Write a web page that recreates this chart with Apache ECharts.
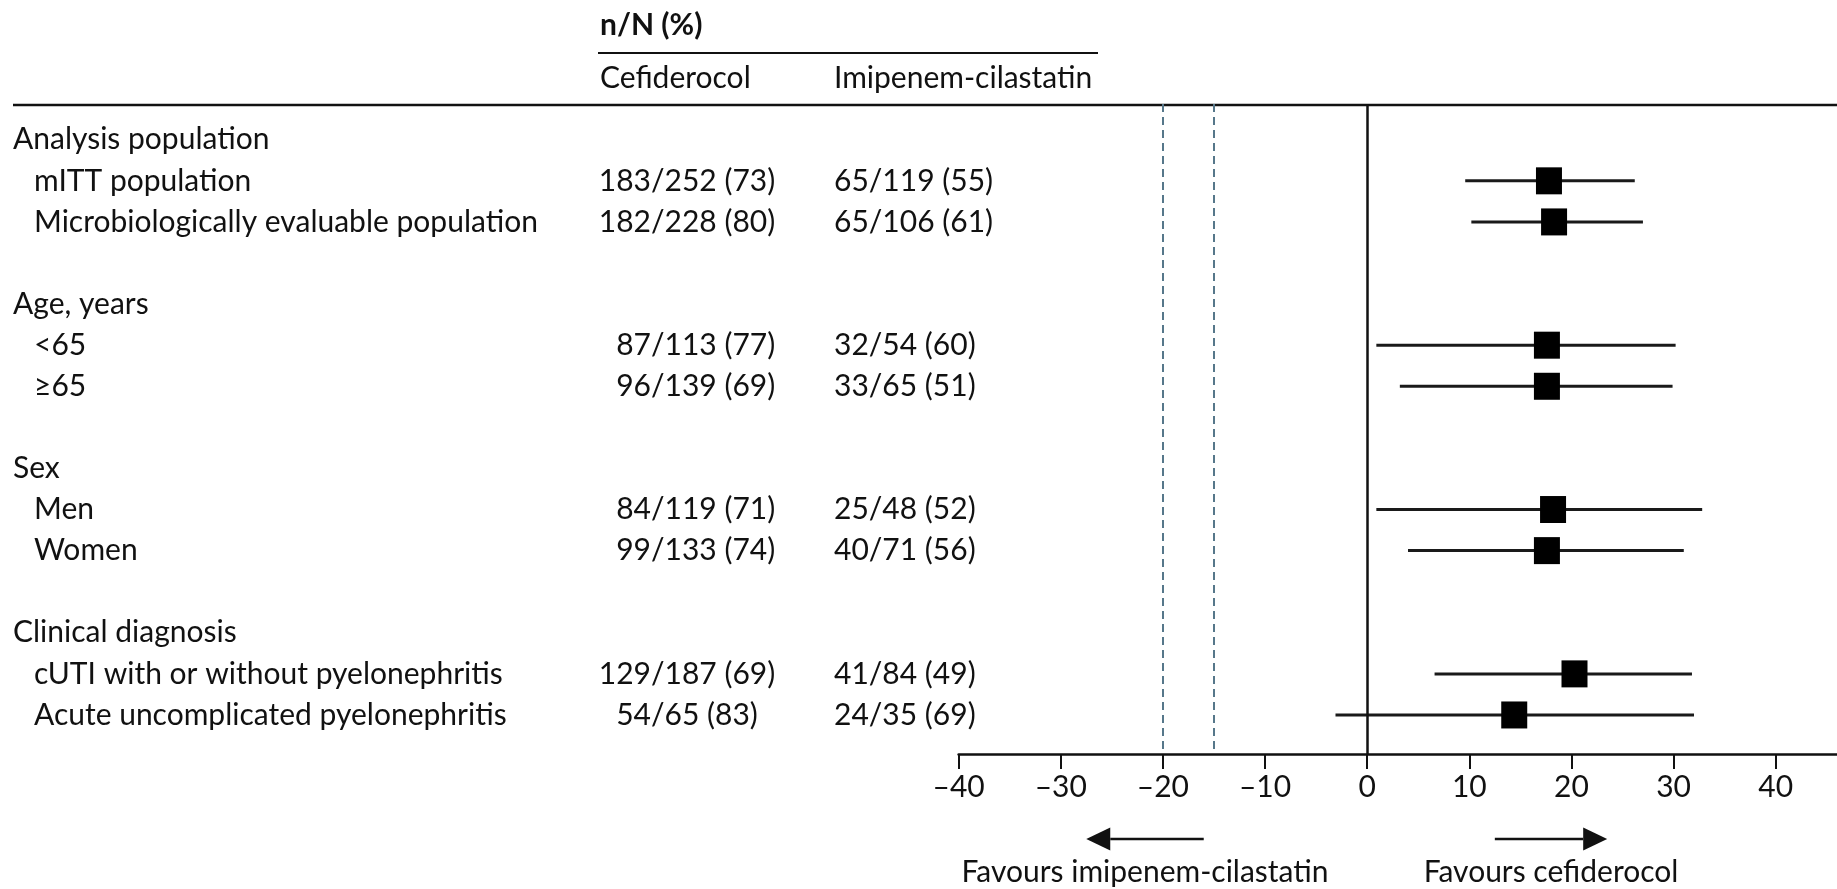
<!DOCTYPE html>
<html>
<head>
<meta charset="utf-8">
<title>Cefiderocol vs imipenem-cilastatin: subgroup forest plot</title>
<script src="https://cdn.jsdelivr.net/npm/echarts@6/dist/echarts.min.js"></script>
<style>
  html, body { margin: 0; padding: 0; background: #ffffff; }
  #chart { width: 1837px; height: 889px; }
</style>
</head>
<body>
<div id="chart"></div>
<script>
// ---- Data ---------------------------------------------------------------
const groupHeaders = ['Analysis population', 'Age, years', 'Sex', 'Clinical diagnosis'];
const subgroups = [
  'mITT population',
  'Microbiologically evaluable population',
  '<65',
  '\u226565',
  'Men',
  'Women',
  'cUTI with or without pyelonephritis',
  'Acute uncomplicated pyelonephritis'
];
const cefiderocolCounts = ['183/252 (73)', '182/228 (80)', '87/113 (77)', '96/139 (69)', '84/119 (71)', '99/133 (74)', '129/187 (69)', '54/65 (83)'];
const imipenemCounts = ['65/119 (55)', '65/106 (61)', '32/54 (60)', '33/65 (51)', '25/48 (52)', '40/71 (56)', '41/84 (49)', '24/35 (69)'];
// Treatment difference (%) with 95% CI
const difference = [17.8, 18.3, 17.6, 17.6, 18.2, 17.6, 20.3, 14.4];
const ciLower    = [9.6, 10.2, 0.9, 3.2, 0.9, 4.0, 6.6, -3.1];
const ciUpper    = [26.2, 27.0, 30.2, 29.9, 32.8, 31.0, 31.8, 32.0];
// Non-inferiority margins
const marginLines = [-20, -15];
const xTicks = [-40, -30, -20, -10, 0, 10, 20, 30, 40];
const columnGroupTitle = 'n/N (%)';
const columnTitles = ['Cefiderocol', 'Imipenem-cilastatin'];
const favourLabels = ['Favours imipenem-cilastatin', 'Favours cefiderocol'];
const favourArrows = [[-16, -27.5], [12.5, 23.5]];   // [tail, tip] in axis units

// ---- Layout -------------------------------------------------------------
const FONT = 'Lato, "Liberation Sans", sans-serif';
const FS = 30;
const INK = '#111111';
const X_HEADER = 13, X_INDENT = 34, X_CEF_SLASH = 651, X_IMI = 834, X_COLS = 600;

// each group: header row, two subgroup rows, one spacer row
const rowOfSubgroup = k => 4 * Math.floor(k / 2) + 1 + (k % 2);
const tableRows = [];
groupHeaders.forEach((h, g) => {
  tableRows.push({ row: 4 * g, label: h, x: X_HEADER });
  for (let j = 0; j < 2; j++) {
    const k = 2 * g + j;
    tableRows.push({ row: rowOfSubgroup(k), label: subgroups[k], x: X_INDENT,
                     cef: cefiderocolCounts[k], imi: imipenemCounts[k] });
  }
});

const textStyle = (text, align, extra) => Object.assign({
  text, fill: INK, fontSize: FS, fontFamily: FONT, align, verticalAlign: 'middle'
}, extra || {});

const chart = echarts.init(document.getElementById('chart'), null, { renderer: 'canvas' });

const option = {
  backgroundColor: '#ffffff',
  animation: false,
  textStyle: { fontFamily: FONT, color: INK },
  grid: { left: 958.6, right: 0, top: 104, bottom: 135, containLabel: false, outerBoundsMode: 'none' },
  xAxis: {
    type: 'value', min: -40, max: 46, interval: 10,
    splitLine: { show: false },
    axisLine: { show: true, onZero: false, lineStyle: { color: INK, width: 2.5 } },
    axisTick: { show: true, length: 15, customValues: xTicks, lineStyle: { color: INK, width: 2 } },
    axisLabel: {
      show: true, margin: 18, fontSize: FS, color: INK, fontFamily: FONT,
      customValues: xTicks,
      formatter: v => (v < 0 ? '\u2013' + Math.abs(v) : String(v))
    }
  },
  yAxis: { type: 'value', inverse: true, min: -0.87, max: 14.95, show: false },
  series: [
    {
      // table text: row labels and n/N (%) columns
      type: 'custom', name: 'table', silent: true, clip: false,
      data: tableRows.map(r => [0, r.row]),
      encode: { x: 0, y: 1 },
      renderItem: (params, api) => {
        const r = tableRows[params.dataIndex];
        const y = api.coord([0, api.value(1)])[1];
        const children = [{ type: 'text', x: r.x, y, style: textStyle(r.label, 'left') }];
        if (r.cef) {
          const slash = r.cef.indexOf('/');
          children.push({ type: 'text', x: X_CEF_SLASH, y, style: textStyle(r.cef.slice(0, slash), 'right') });
          children.push({ type: 'text', x: X_CEF_SLASH, y, style: textStyle(r.cef.slice(slash), 'left') });
          children.push({ type: 'text', x: X_IMI, y, style: textStyle(r.imi, 'left') });
        }
        return { type: 'group', children };
      },
      z: 1
    },
    {
      // 95% confidence intervals
      type: 'custom', name: 'ci', silent: true,
      data: subgroups.map((_, k) => [ciLower[k], ciUpper[k], rowOfSubgroup(k)]),
      encode: { x: [0, 1], y: 2 },
      renderItem: (params, api) => {
        const a = api.coord([api.value(0), api.value(2)]);
        const b = api.coord([api.value(1), api.value(2)]);
        return {
          type: 'line',
          shape: { x1: a[0], y1: a[1], x2: b[0], y2: b[1] },
          style: { stroke: '#1a1a1a', lineWidth: 3 }
        };
      },
      z: 3
    },
    {
      // point estimates
      type: 'scatter', name: 'difference', silent: true,
      symbol: 'rect', symbolSize: [26, 27],
      itemStyle: { color: '#000000', opacity: 1 },
      data: difference.map((d, k) => [d, rowOfSubgroup(k)]),
      markLine: {
        silent: true, symbol: 'none', label: { show: false },
        data: [
          { xAxis: 0, lineStyle: { color: INK, width: 2.5, type: 'solid', opacity: 1 } }
        ].concat(marginLines.map(v => ({
          xAxis: v, lineStyle: { color: '#56778a', width: 2, type: [8, 5], opacity: 1 }
        })))
      },
      z: 4
    }
  ],
  graphic: [
    { type: 'text', x: X_COLS, y: 25, style: textStyle(columnGroupTitle, 'left', { fontWeight: 'bold' }) },
    { type: 'line', shape: { x1: 598, y1: 53, x2: 1098, y2: 53 }, style: { stroke: INK, lineWidth: 2 } },
    { type: 'text', x: X_COLS, y: 78, style: textStyle(columnTitles[0], 'left') },
    { type: 'text', x: X_IMI, y: 78, style: textStyle(columnTitles[1], 'left') },
    { type: 'line', shape: { x1: 13, y1: 105, x2: 1837, y2: 105 }, style: { stroke: INK, lineWidth: 2.5 } }
  ]
};

chart.setOption(option);

// "Favours ..." arrows and captions below the axis, placed in axis units
const ARROW_Y = 839, CAPTION_Y = 872, HEAD_LEN = 24, HEAD_HALF = 11.5;
const extra = [];
favourArrows.forEach((arr, i) => {
  const tail = chart.convertToPixel({ xAxisIndex: 0 }, arr[0]);
  const tip = chart.convertToPixel({ xAxisIndex: 0 }, arr[1]);
  const dir = Math.sign(tip - tail);
  const base = tip - dir * HEAD_LEN;
  extra.push({ type: 'line', shape: { x1: tail, y1: ARROW_Y, x2: base, y2: ARROW_Y },
               style: { stroke: INK, lineWidth: 2.5 } });
  extra.push({ type: 'polygon',
               shape: { points: [[tip, ARROW_Y], [base, ARROW_Y - HEAD_HALF], [base, ARROW_Y + HEAD_HALF]] },
               style: { fill: INK } });
  extra.push({ type: 'text', x: (tail + tip) / 2, y: CAPTION_Y, style: textStyle(favourLabels[i], 'center') });
});
chart.setOption({ graphic: option.graphic.concat(extra) });
</script>
</body>
</html>
